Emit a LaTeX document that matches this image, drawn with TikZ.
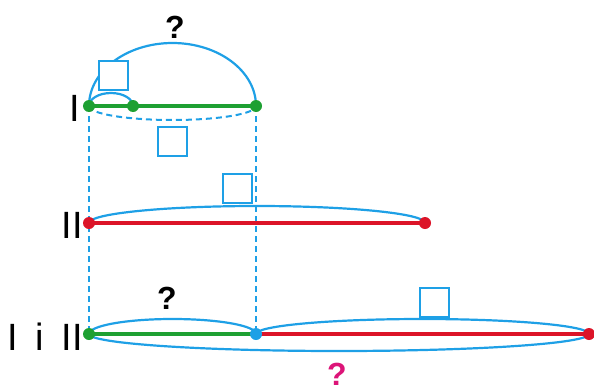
\documentclass[tikz,border=0pt]{standalone}
\usepackage{fontspec}
\setmainfont{Liberation Sans}
\definecolor{cblue}{RGB}{30,160,230}
\definecolor{cgreen}{RGB}{30,160,50}
\definecolor{cred}{RGB}{220,20,40}
\definecolor{cmag}{RGB}{220,20,120}
\begin{document}
\begin{tikzpicture}[x=1pt,y=-1pt,
  arcline/.style={cblue,line width=2.2pt},
  dashline/.style={cblue,line width=2pt,dash pattern=on 6pt off 4pt},
  qbox/.style={draw=cblue,line width=2pt,fill=white,minimum width=29pt,minimum height=29pt,inner sep=0pt},
  dotg/.style={circle,fill=cgreen,minimum size=12pt,inner sep=0pt},
  dotr/.style={circle,fill=cred,minimum size=12pt,inner sep=0pt},
  dotb/.style={circle,fill=cblue,minimum size=12pt,inner sep=0pt},
  roman/.style={font=\fontsize{38}{40}\selectfont,inner sep=0pt},
  qmark/.style={font=\bfseries\fontsize{32}{34}\selectfont,inner sep=0pt},
  seggreen/.style={cgreen,line width=3.5pt},
  segred/.style={cred,line width=3.5pt}]
\useasboundingbox (0,0) rectangle (594,391);
% points
\coordinate (a1) at (89,106);
\coordinate (a2) at (133,106);
\coordinate (a3) at (256,106);
\coordinate (b1) at (89,223);
\coordinate (b2) at (425,223);
\coordinate (c1) at (89,334);
\coordinate (c2) at (256,334);
\coordinate (c3) at (589,334);
% dashed verticals
\draw[dashline] (a1) -- (c1);
\draw[dashline] (a3) -- (c2);
% row I
\draw[arcline] (a1) arc[start angle=180,end angle=0,x radius=83.5pt,y radius=63pt];
\draw[arcline] (a1) arc[start angle=180,end angle=0,x radius=22pt,y radius=13pt];
\draw[dashline] (a1) arc[start angle=180,end angle=360,x radius=83.5pt,y radius=14pt];
\draw[seggreen] (a1) -- (a3);
\node[qbox] (box1) at (113.5,75) {};
\node[qbox] (box2) at (172,141.5) {};
\node[qmark] (q1) at (175,27) {?};
\node[roman] (l1) at (75,108) {I};
% row II
\draw[arcline] (b1) arc[start angle=180,end angle=0,x radius=168pt,y radius=17pt];
\draw[segred] (b1) -- (b2);
\node[qbox] (box3) at (237,188) {};
\node[roman] (l2) at (72,225) {II};
% row III
\draw[arcline] (c1) arc[start angle=180,end angle=0,x radius=83.5pt,y radius=15pt];
\draw[arcline] (c2) arc[start angle=180,end angle=0,x radius=166.5pt,y radius=15pt];
\draw[arcline] (c1) arc[start angle=180,end angle=360,x radius=250pt,y radius=17pt];
\draw[seggreen] (c1) -- (c2);
\draw[segred] (c2) -- (c3);
\node[qbox] (box4) at (434,302.5) {};
\node[qmark] (q2) at (167,298) {?};
\node[qmark,text=cmag] (q3) at (337,374) {?};
\node[roman] (l3a) at (13,337) {I};
\node[roman] (l3b) at (40,337) {i};
\node[roman] (l3c) at (72,337) {II};
% dots
\node[dotg] at (a1) {};
\node[dotg] at (a2) {};
\node[dotg] at (a3) {};
\node[dotr] at (b1) {};
\node[dotr] at (b2) {};
\node[dotg] at (c1) {};
\node[dotb] at (c2) {};
\node[dotr] at (c3) {};
\end{tikzpicture}
\end{document}
